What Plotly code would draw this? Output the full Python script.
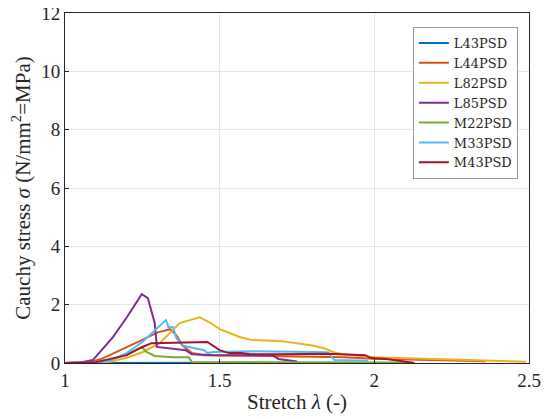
import plotly.graph_objects as go

names = ["L43PSD", "L44PSD", "L82PSD", "L85PSD", "M22PSD", "M33PSD", "M43PSD"]
colors = ["#0072BD", "#D95319", "#EDB120", "#7E2F8E", "#77AC30", "#4DBEEE", "#A2142F"]

l43_x = [1.0, 1.3, 1.6, 1.9]
l43_y = [0.0, 0.01, 0.01, 0.0]

l44_x = [1.0, 1.08, 1.12, 1.145, 1.2, 1.25, 1.3, 1.34, 1.36, 1.38, 1.41, 1.45, 1.6, 1.8, 1.9, 2.0, 2.2, 2.36]
l44_y = [0.0, 0.03, 0.15, 0.27, 0.55, 0.79, 1.05, 1.16, 0.95, 0.6, 0.34, 0.27, 0.25, 0.22, 0.2, 0.15, 0.1, 0.06]

l82_x = [1.0, 1.1, 1.15, 1.2, 1.25, 1.306, 1.371, 1.41, 1.435, 1.47, 1.5, 1.565, 1.6, 1.63, 1.7, 1.8, 1.84, 1.87, 1.9, 2.0, 2.12, 2.3, 2.49]
l82_y = [0.0, 0.0, 0.05, 0.18, 0.37, 0.68, 1.37, 1.5, 1.57, 1.38, 1.16, 0.89, 0.8, 0.78, 0.75, 0.6, 0.5, 0.36, 0.3, 0.2, 0.17, 0.1, 0.04]

l85_x = [1.0, 1.05, 1.09, 1.155, 1.2, 1.248, 1.268, 1.28, 1.29, 1.297, 1.35, 1.39, 1.41, 1.48, 1.67, 1.69, 1.75]
l85_y = [0.0, 0.02, 0.1, 0.89, 1.57, 2.36, 2.22, 1.8, 1.37, 0.55, 0.5, 0.44, 0.3, 0.27, 0.27, 0.14, 0.05]

m22_x = [1.0, 1.1, 1.15, 1.2, 1.24, 1.25, 1.26, 1.29, 1.35, 1.4, 1.41, 1.5, 1.7, 1.9, 2.12]
m22_y = [0.0, 0.02, 0.12, 0.3, 0.5, 0.55, 0.4, 0.24, 0.2, 0.2, 0.03, 0.03, 0.03, 0.02, 0.02]

m33_x = [1.0, 1.12, 1.15, 1.2, 1.25, 1.3, 1.326, 1.335, 1.35, 1.36, 1.38, 1.4, 1.45, 1.46, 1.48, 1.6, 1.75, 1.85, 1.87, 1.98]
m33_y = [0.0, 0.03, 0.1, 0.35, 0.72, 1.2, 1.47, 1.23, 1.23, 0.85, 0.6, 0.55, 0.44, 0.34, 0.38, 0.4, 0.38, 0.37, 0.1, 0.08]

m43_x = [1.0, 1.1, 1.2, 1.25, 1.28, 1.34, 1.4, 1.46, 1.5, 1.53, 1.57, 1.6, 1.7, 1.85, 1.97, 1.99, 2.04, 2.13]
m43_y = [0.0, 0.03, 0.27, 0.55, 0.68, 0.7, 0.7, 0.72, 0.44, 0.34, 0.34, 0.3, 0.3, 0.32, 0.27, 0.17, 0.14, 0.0]

series_x = [l43_x, l44_x, l82_x, l85_x, m22_x, m33_x, m43_x]
series_y = [l43_y, l44_y, l82_y, l85_y, m22_y, m33_y, m43_y]

x_ticks = [1, 1.5, 2, 2.5]
x_tick_labels = ["1", "1.5", "2", "2.5"]
y_ticks = [0, 2, 4, 6, 8, 10, 12]
y_tick_labels = ["0", "2", "4", "6", "8", "10", "12"]

fig = go.Figure()
for n, c, xs, ys in zip(names, colors, series_x, series_y):
    fig.add_trace(go.Scatter(x=xs, y=ys, mode="lines", name=n,
                             line=dict(color=c, width=2)))

font_family = "Liberation Serif, DejaVu Serif, serif"
axis_common = dict(showline=True, linecolor="#262626", linewidth=1, mirror=True,
                   showgrid=True, gridcolor="#e6e6e6", gridwidth=1,
                   ticks="inside", ticklen=4, tickcolor="#262626",
                   zeroline=False, automargin=False, ticklabeloverflow="allow",
                   tickfont=dict(size=19, color="#262626"))

# the page body has an 8px margin, so the figure is 8px smaller each way
fig.update_layout(
    width=541, height=411,
    margin=dict(l=57, r=20, t=5, b=56),
    paper_bgcolor="white", plot_bgcolor="white",
    font=dict(family=font_family, color="#262626"),
    xaxis=dict(range=[1, 2.5], tickvals=x_ticks, ticktext=x_tick_labels,
               title=dict(text="Stretch <i>λ</i> (-)", font=dict(size=21), standoff=4),
               **axis_common),
    yaxis=dict(range=[0, 12], tickvals=y_ticks, ticktext=y_tick_labels,
               title=dict(text="Cauchy stress <i>σ</i> (N/mm<sup>2</sup>=MPa)", font=dict(size=21), standoff=8),
               **axis_common),
    legend=dict(x=0.976, y=0.96, xanchor="right", yanchor="top",
                bgcolor="white", bordercolor="#999999", borderwidth=1,
                font=dict(size=13, color="#262626", family="DejaVu Serif, serif"),
                tracegroupgap=0),
    showlegend=True,
)

fig.write_html("out.html")
